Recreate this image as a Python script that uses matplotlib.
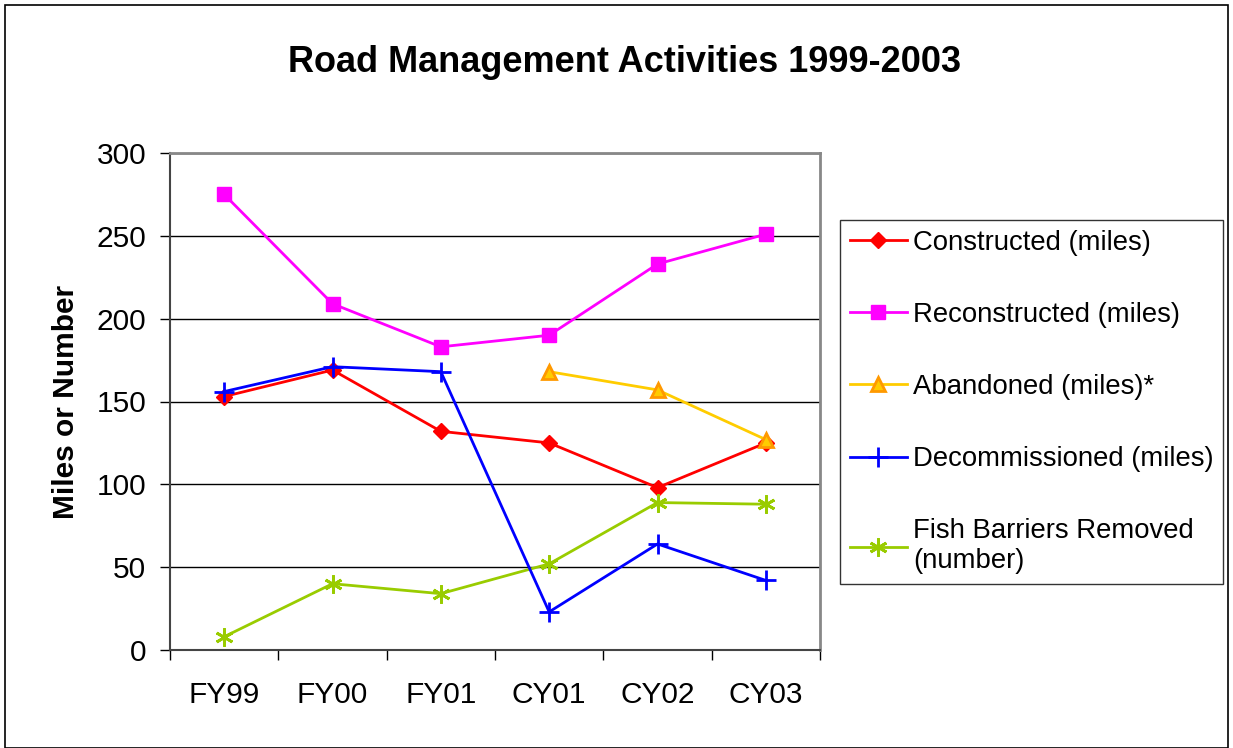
import matplotlib
matplotlib.use("Agg")
import matplotlib.pyplot as plt
from matplotlib.patches import Rectangle

plt.rcParams['font.family'] = ['Liberation Sans', 'DejaVu Sans']

# data
periods = ["FY99", "FY00", "FY01", "CY01", "CY02", "CY03"]
constructed = [153, 169, 132, 125, 98, 125]
reconstructed = [275, 209, 183, 190, 233, 251]
abandoned = [None, None, None, 168, 157, 127]
decommissioned = [156, 171, 168, 23, 64, 42]
fish_barriers = [8, 40, 34, 52, 89, 88]

fig = plt.figure(figsize=(12.33, 7.48), dpi=100)
ax = fig.add_axes([170 / 1233, 1 - 650 / 748, 650 / 1233, 497 / 748])

x = list(range(len(periods)))
ab_x = [i for i, v in enumerate(abandoned) if v is not None]
ab_y = [v for v in abandoned if v is not None]

ax.plot(x, constructed, color="#ff0000", lw=2, marker="D", ms=8, label="Constructed (miles)", zorder=3)
ax.plot(x, reconstructed, color="#ff00ff", lw=2, marker="s", ms=10, label="Reconstructed (miles)", zorder=3)
ax.plot(ab_x, ab_y, color="#ffcc00", lw=2, marker="^", ms=10, mfc="#ffcc00", mec="#ff9900", mew=2,
        label="Abandoned (miles)*", zorder=3)
ax.plot(x, decommissioned, color="#0000ff", lw=2, marker="+", ms=14, mew=2, label="Decommissioned (miles)", zorder=4)
ax.plot(x, fish_barriers, color="#99cc00", lw=2, marker=(6, 2, 0), ms=13, mew=2,
        label="Fish Barriers Removed\n(number)", zorder=3)

ax.set_xlim(-0.5, len(periods) - 0.5)
ax.set_ylim(0, 300)
ax.set_yticks(range(0, 301, 50))
ax.set_xticks(x)
ax.set_xticklabels(periods)
ax.set_xticks([i - 0.5 for i in range(len(periods) + 1)], minor=True)
ax.tick_params(axis="x", which="major", length=0, pad=22, labelsize=21.5)
ax.tick_params(axis="x", which="minor", length=7, direction="out", width=1)
ax.tick_params(axis="y", length=7, direction="out", width=1, labelsize=21.5, pad=10)
ax.yaxis.grid(True, color="black", lw=1)
ax.set_axisbelow(True)
for side in ["top", "right"]:
    ax.spines[side].set_color("#888888")
    ax.spines[side].set_linewidth(2)
for side in ["left", "bottom"]:
    ax.spines[side].set_color("#444444")
    ax.spines[side].set_linewidth(1.5)

ax.set_ylabel("Miles or Number", fontsize=21.5, fontweight="bold", labelpad=12)
fig.text(624 / 1233, 1 - 62 / 748, "Road Management Activities 1999-2003",
         ha="center", va="center", fontsize=26, fontweight="bold")

leg = ax.legend(loc="upper left", bbox_to_anchor=(840 / 1233, 1 - 220 / 748),
                bbox_transform=fig.transFigure, fontsize=19.8, frameon=True,
                fancybox=False, edgecolor="black", handlelength=2.1, handletextpad=0.2,
                labelspacing=1.68, borderpad=0.35, borderaxespad=0)
leg.get_frame().set_linewidth(1)

fig.patches.append(Rectangle((5 / 1233, 0), 1 - 10 / 1233, 1 - 5 / 748, transform=fig.transFigure,
                             fill=False, edgecolor="black", lw=1.2))

fig.savefig("out.png", dpi=100)
